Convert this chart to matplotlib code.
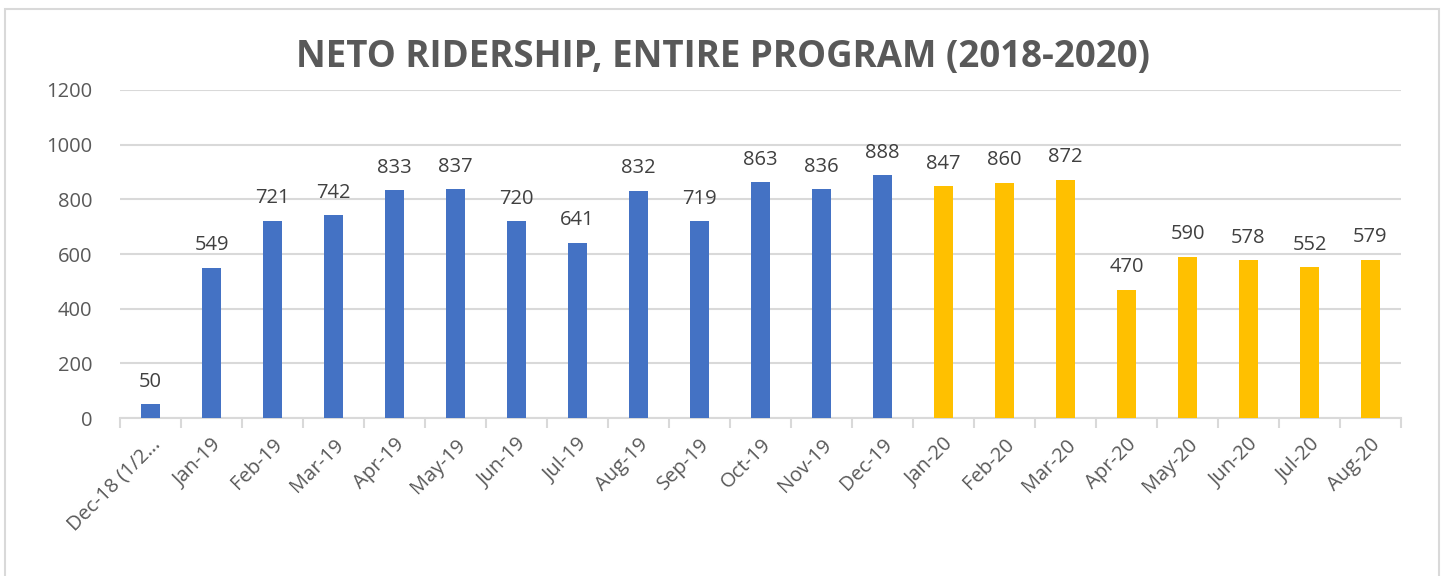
import matplotlib.pyplot as plt
from matplotlib.patches import Rectangle
import numpy as np

plt.rcParams['font.family'] = ['Open Sans', 'DejaVu Sans']

months = ["Dec-18 (1/2\u2026", "Jan-19", "Feb-19", "Mar-19", "Apr-19", "May-19",
          "Jun-19", "Jul-19", "Aug-19", "Sep-19", "Oct-19", "Nov-19", "Dec-19",
          "Jan-20", "Feb-20", "Mar-20", "Apr-20", "May-20", "Jun-20", "Jul-20",
          "Aug-20"]
riders = [50, 549, 721, 742, 833, 837, 720, 641, 832, 719, 863, 836, 888,
          847, 860, 872, 470, 590, 578, 552, 579]
years = [2018, 2019, 2019, 2019, 2019, 2019, 2019, 2019, 2019, 2019, 2019,
         2019, 2019, 2020, 2020, 2020, 2020, 2020, 2020, 2020, 2020]

BLUE = "#4472C4"
GOLD = "#FFC000"
GRID = "#d9d9d9"
TXT = "#595959"

fig = plt.figure(figsize=(14.42, 5.76), dpi=100)
ax = fig.add_axes([120 / 1442, 1 - 418 / 576, (1401 - 120) / 1442, (418 - 90) / 576])

x = np.arange(len(months))
colors = [GOLD if y == 2020 else BLUE for y in years]
ax.bar(x, riders, width=0.31, color=colors, zorder=3)

for xi, v in zip(x, riders):
    ax.annotate(str(v), (xi, v), xytext=(0, 9), textcoords="offset points",
                ha="center", va="bottom", fontsize=14.5, color="#404040")

ax.set_xlim(-0.5, len(months) - 0.5)
ax.set_ylim(0, 1200)
ax.set_yticks(range(0, 1201, 200))
ax.yaxis.grid(True, color=GRID, linewidth=1.5, zorder=0)
ax.tick_params(axis="y", length=0, labelsize=14.5, labelcolor=TXT, pad=20)

ax.set_xticks(x)
ax.set_xticklabels(months, rotation=45, ha="right", rotation_mode="anchor")
ax.set_xticks(np.arange(-0.5, len(months)), minor=True)
ax.tick_params(axis="x", which="major", length=0, labelsize=14.5,
               labelcolor=TXT, pad=12)
ax.tick_params(axis="x", which="minor", length=7, width=1.5, color=GRID)

for s in ["top", "right", "left"]:
    ax.spines[s].set_visible(False)
ax.spines["bottom"].set_color(GRID)
ax.spines["bottom"].set_linewidth(1.5)

fig.text(0.5 * (295 + 1150) / 1442, 1 - 57 / 576,
         "NETO RIDERSHIP, ENTIRE PROGRAM (2018-2020)",
         ha="center", va="center", fontsize=26.4, fontweight="bold", color=TXT)

fig.patches.append(Rectangle((5 / 1442, -0.1), (1439 - 5) / 1442, 1.1 - 9 / 576,
                             transform=fig.transFigure, fill=False,
                             edgecolor=GRID, linewidth=1.5))

fig.savefig("out.png", dpi=100)
